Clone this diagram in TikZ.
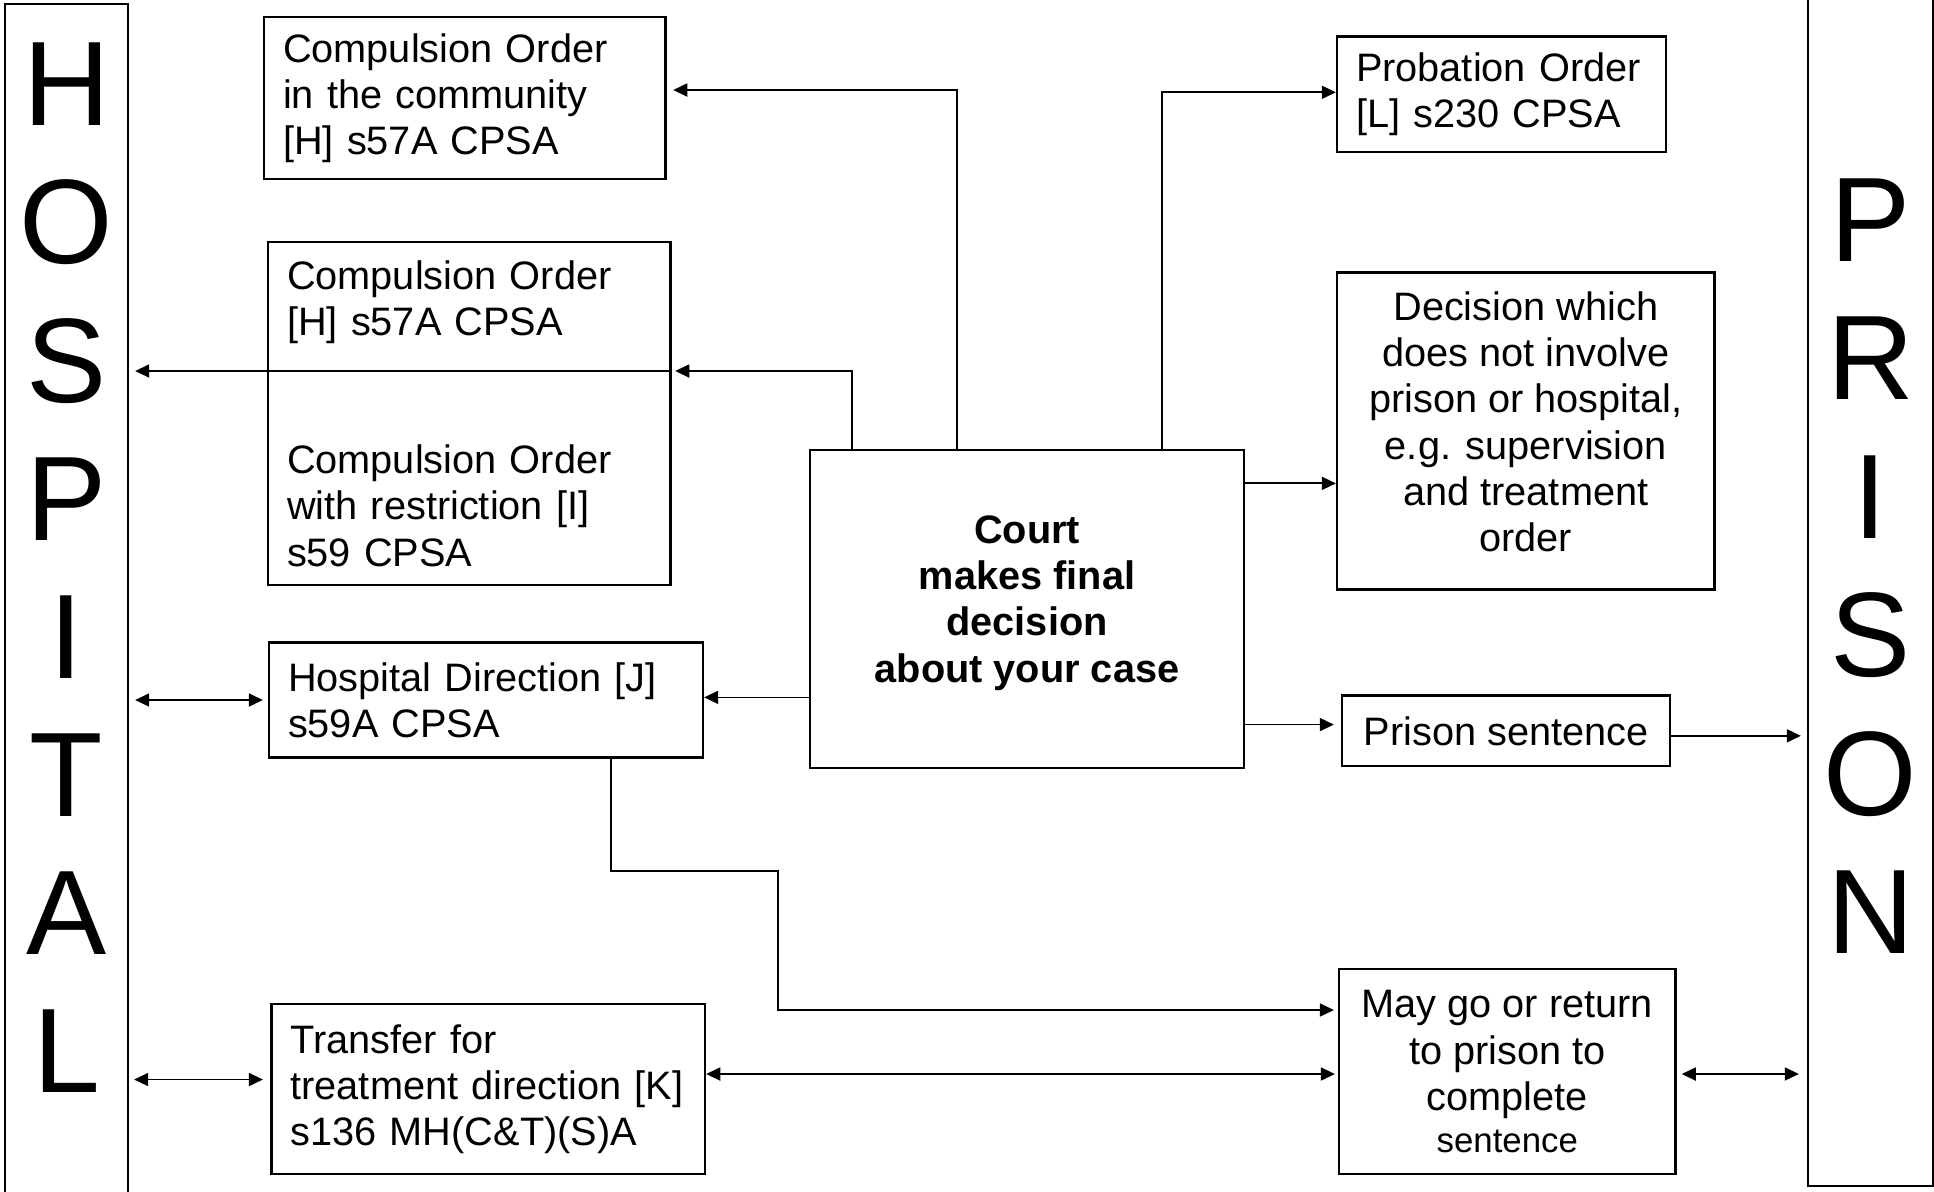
\documentclass[tikz,border=0pt]{standalone}
\usepackage{fontspec}
\setmainfont{Liberation Sans}
\usepackage{tikz}
\usetikzlibrary{arrows.meta, positioning}
\tikzset{
  box/.style={
    rectangle, draw=black, line width=0.65pt,
    font=\fontsize{11.3}{13.15}\selectfont,
    inner xsep=0.19cm, inner ysep=0pt,
  },
  lbox/.style={box, align=left},
  cbox/.style={box, align=center},
  side/.style={
    rectangle, draw=black, line width=0.65pt,
    minimum height=12.26cm,
  },
  bigch/.style={
    font=\fontsize{34.2}{40}\selectfont,
    anchor=base, inner sep=0pt,
  },
  arr/.style={
    -{Triangle[length=4pt,width=3.7pt]},
    line width=0.5pt,
  },
  darr/.style={
    {Triangle[length=4pt,width=3.7pt]}-{Triangle[length=4pt,width=3.7pt]},
    line width=0.5pt,
  },
}

\begin{document}
\begin{tikzpicture}[x=1cm,y=1cm]

    \useasboundingbox (0,0) rectangle (19.34,-11.91);
    \clip (0,0) rectangle (19.34,-11.91);

    % the two sides
    \node[side, minimum width=1.23cm] (hosp) at (0.665,-6.17) {};
    \foreach \ch [count=\i from 0] in {H,O,S,P,I,T,A,L}{
      \node[bigch] (hosp\i) at (0.665,{-1.258-1.381*\i}) {\ch};
    }
    \node[side, minimum width=1.25cm] (pris) at (18.705,-5.73) {};
    \foreach \ch [count=\i from 0] in {P,R,I,S,O,N}{
      \node[bigch] (pris\i) at (18.705,{-2.615-1.384*\i}) {\ch};
    }

    \node[lbox, text width=3.635cm, minimum height=1.62cm] (coCom) at (4.648,-0.98)
          {Compulsion Order\\in the community\\{[H]} s57A CPSA};
    \node[lbox, text width=3.645cm, minimum height=3.43cm] (coBox) at (4.693,-4.135)
          {Compulsion Order\\{[H]} s57A CPSA\\[26.2pt]Compulsion Order\\with restriction [I]\\s59 CPSA};
    \node[lbox, text width=3.96cm, minimum height=1.15cm] (hd) at (4.86,-7.00)
          {Hospital Direction [J]\\s59A CPSA};
    \node[lbox, text width=3.955cm, minimum height=1.70cm] (trans) at (4.883,-10.89)
          {Transfer for\\treatment direction [K]\\s136 MH(C\&T)(S)A};

    \node[cbox, minimum width=4.34cm, minimum height=3.18cm,
          font=\fontsize{11.3}{13.15}\selectfont\bfseries] (court) at (10.27,-6.09)
          {Court\\makes final\\decision\\about your case\rule[-0.2cm]{0pt}{0.2cm}};

    \node[lbox, text width=2.91cm, minimum height=1.155cm] (prob) at (15.015,-0.943)
          {Probation Order\\{[L]} s230 CPSA};
    \node[cbox, minimum width=3.775cm, minimum height=3.17cm] (dec) at (15.258,-4.31)
          {Decision which\\does not involve\\prison or hospital,\\e.g. supervision\\and treatment\\order\rule[-0.19cm]{0pt}{0.19cm}};
    \node[cbox, minimum width=3.28cm, minimum height=0.705cm] (prisSent) at (15.06,-7.308)
          {Prison sentence};
    \node[cbox, minimum width=3.365cm, minimum height=2.05cm] (mayGo) at (15.073,-10.715)
          {May go or return\\to prison to\\complete\\[-1.2pt]{\fontsize{9.9}{11.8}\selectfont sentence}};

    % from the court
    \draw[arr] ([xshift=1.48cm]court.north west) |- ([xshift=0.065cm,yshift=0.08cm]coCom.east);
    \coordinate (coSplit) at ([yshift=0.425cm]coBox.east);
    \draw[arr] ([xshift=0.43cm]court.north west) |- ([xshift=0.035cm]coSplit);
    \draw[arr, shorten >=0.06cm] (coSplit) -- (coSplit -| hosp.east);
    \coordinate (cHd) at ([yshift=-2.485cm]court.north west);
    \draw[arr] (cHd) -- (cHd -| hd.east);

    \draw[arr] ([xshift=3.53cm]court.north west) |- ([yshift=0.02cm]prob.west);
    \coordinate (cDec) at ([yshift=-0.345cm]court.north east);
    \draw[arr] (cDec) -- (cDec -| dec.west);
    \coordinate (cSent) at ([yshift=-2.757cm]court.north east);
    \draw[arr, shorten >=0.07cm] (cSent) -- (cSent -| prisSent.west);
    \coordinate (cPris) at ([yshift=-0.05cm]prisSent.east);
    \draw[arr, shorten >=0.06cm] (cPris) -- (cPris -| pris.west);

    % hospital and prison links
    \draw[darr, shorten <=0.05cm, shorten >=0.06cm] (hd.west) -- (hd.west -| hosp.east);
    \coordinate (cTr) at ([yshift=0.095cm]trans.west);
    \draw[darr, shorten <=0.075cm, shorten >=0.05cm] (cTr) -- (cTr -| hosp.east);
    \coordinate (cTrM) at ([yshift=0.15cm]trans.east);
    \draw[darr, shorten >=0.03cm] (cTrM) -- (cTrM -| mayGo.west);
    \coordinate (cMayP) at ([yshift=-0.025cm]mayGo.east);
    \draw[darr, shorten <=0.05cm, shorten >=0.08cm] (cMayP) -- (cMayP -| pris.west);
    \draw[arr, shorten >=0.04cm] ([xshift=3.43cm]hd.south west) -- ++(0,-1.125) -- ++(1.67,0)
          |- ([yshift=0.615cm]mayGo.west);

  \end{tikzpicture}
\end{document}
